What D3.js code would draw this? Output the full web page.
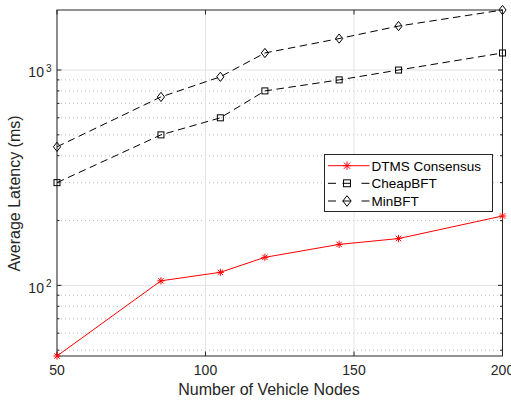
<!DOCTYPE html>
<html><head><meta charset="utf-8">
<script src="https://cdn.jsdelivr.net/npm/d3@7"></script>
<style>body{margin:0;background:#fff}svg{display:block}text{font-family:"Liberation Sans",Arial,Helvetica,sans-serif}</style>
</head><body><div id="c"></div>
<script>
const nodes = [50, 85, 105, 120, 145, 165, 200];
const dtms = [47, 105, 115, 135, 155, 165, 210];
const cheap = [300, 500, 600, 800, 900, 1000, 1200];
const minbft = [440, 750, 930, 1200, 1400, 1600, 1900];
const seriesNames = ["DTMS Consensus", "CheapBFT", "MinBFT"];
const xTicks = [50, 100, 150, 200];
const yMajor = [100, 1000];
const yDomain = [47, 1900];

const W = 511, H = 403;
const m = {l: 57, r: 8.5, t: 10, b: 47};
const svg = d3.select("#c").append("svg").attr("width", W).attr("height", H);
const x = d3.scaleLinear().domain([50, 200]).range([m.l, W - m.r]);
const y = d3.scaleLog().domain(yDomain).range([H - m.b, m.t]);
const x0 = m.l, x1 = W - m.r, y0 = H - m.b, y1 = m.t;

// minor grid
const minor = [];
[10, 100, 1000].forEach(d => { for (let k = 2; k <= 9; k++) { const v = d * k; if (v >= yDomain[0] && v <= yDomain[1]) minor.push(v); } });
const g = svg.append("g");
g.selectAll(".mg").data(minor).enter().append("line")
  .attr("x1", x0).attr("x2", x1).attr("y1", d => y(d)).attr("y2", d => y(d))
  .attr("stroke", "#bdbdbd").attr("stroke-width", 1).attr("stroke-dasharray", "1,3");
g.selectAll(".xg").data(xTicks).enter().append("line")
  .attr("x1", d => x(d)).attr("x2", d => x(d)).attr("y1", y0).attr("y2", y1)
  .attr("stroke", "#e3e3e3").attr("stroke-width", 1);
g.selectAll(".yg").data(yMajor).enter().append("line")
  .attr("x1", x0).attr("x2", x1).attr("y1", d => y(d)).attr("y2", d => y(d))
  .attr("stroke", "#e3e3e3").attr("stroke-width", 1);

// axes box
svg.append("rect").attr("x", x0).attr("y", y1).attr("width", x1 - x0).attr("height", y0 - y1)
  .attr("fill", "none").attr("stroke", "#262626").attr("stroke-width", 1);

// ticks (inward)
const tk = svg.append("g").attr("stroke", "#262626").attr("stroke-width", 1);
xTicks.forEach(t => {
  tk.append("line").attr("x1", x(t)).attr("x2", x(t)).attr("y1", y0).attr("y2", y0 - 4.5);
  tk.append("line").attr("x1", x(t)).attr("x2", x(t)).attr("y1", y1).attr("y2", y1 + 4.5);
});
yMajor.forEach(t => {
  tk.append("line").attr("x1", x0).attr("x2", x0 + 4.5).attr("y1", y(t)).attr("y2", y(t));
  tk.append("line").attr("x1", x1).attr("x2", x1 - 4.5).attr("y1", y(t)).attr("y2", y(t));
});
minor.forEach(t => {
  tk.append("line").attr("x1", x0).attr("x2", x0 + 2.5).attr("y1", y(t)).attr("y2", y(t));
  tk.append("line").attr("x1", x1).attr("x2", x1 - 2.5).attr("y1", y(t)).attr("y2", y(t));
});

// tick labels
svg.selectAll(".xl").data(xTicks).enter().append("text")
  .attr("x", d => x(d)).attr("y", 375).attr("text-anchor", "middle")
  .attr("font-size", 14).attr("fill", "#262626").text(d => d);
yMajor.forEach(t => {
  const tx = svg.append("text").attr("x", 51.5).attr("y", y(t) + 7.2).attr("text-anchor", "end")
    .attr("font-size", 14).attr("fill", "#262626");
  tx.append("tspan").text("10");
  tx.append("tspan").attr("dy", -5.5).attr("dx", 2).attr("font-size", 10).text(Math.round(Math.log10(t)));
});

// axis labels
svg.append("text").attr("x", 269).attr("y", 395).attr("text-anchor", "middle")
  .attr("font-size", 16).attr("fill", "#262626").text("Number of Vehicle Nodes");
svg.append("text").attr("transform", `translate(20,193.5) rotate(-90)`).attr("text-anchor", "middle")
  .attr("font-size", 16).attr("fill", "#262626").text("Average Latency (ms)");

// series
const line = d3.line().x(d => x(d[0])).y(d => y(d[1]));
const data = [
  {vals: dtms, color: "#ff0000", dash: null, marker: "star", legSegs: [[328, 369.5]]},
  {vals: cheap, color: "#000000", dash: "7.5,4.5", marker: "square", legSegs: [[328, 336], [342.5, 351], [361.5, 369.5]]},
  {vals: minbft, color: "#000000", dash: "7.5,4.5", marker: "diamond", legSegs: [[328, 336], [342.5, 351], [361.5, 369.5]]}
];
function drawMarker(sel, type, color, cx, cy, s) {
  const gm = sel.append("g").attr("transform", `translate(${cx},${cy}) scale(${s || 1})`)
    .attr("fill", "none").attr("stroke", color).attr("stroke-width", 1 / (s || 1));
  if (type === "star") {
    const r = 3.6;
    gm.append("line").attr("x1", -r).attr("x2", r).attr("y1", 0).attr("y2", 0);
    gm.append("line").attr("x1", 0).attr("x2", 0).attr("y1", -r).attr("y2", r);
    const q = r * 0.75;
    gm.append("line").attr("x1", -q).attr("x2", q).attr("y1", -q).attr("y2", q);
    gm.append("line").attr("x1", -q).attr("x2", q).attr("y1", q).attr("y2", -q);
  } else if (type === "square") {
    gm.append("rect").attr("x", -3).attr("y", -3).attr("width", 6).attr("height", 6);
  } else {
    gm.append("path").attr("d", "M0,-4.6L3.6,0L0,4.6L-3.6,0Z");
  }
}
data.forEach(s => {
  const pts = nodes.map((n, i) => [n, s.vals[i]]);
  svg.append("path").attr("d", line(pts)).attr("fill", "none").attr("stroke", s.color)
    .attr("stroke-width", 1).attr("stroke-dasharray", s.dash);
  pts.forEach(p => drawMarker(svg, s.marker, s.color, x(p[0]), y(p[1])));
});

// legend
const lg = svg.append("g");
lg.append("rect").attr("x", 324.5).attr("y", 154.5).attr("width", 168).attr("height", 57)
  .attr("fill", "#fff").attr("stroke", "#262626").attr("stroke-width", 1);
const rows = [165.7, 183.3, 201];
data.forEach((s, i) => {
  s.legSegs.forEach(sg => {
    lg.append("line").attr("x1", sg[0]).attr("x2", sg[1]).attr("y1", rows[i]).attr("y2", rows[i])
      .attr("stroke", s.color).attr("stroke-width", 1);
  });
  drawMarker(lg, s.marker, s.color, 347, rows[i], 1.15);
  lg.append("text").attr("x", 371.5).attr("y", rows[i] + 4.8).attr("font-size", 13.5)
    .attr("fill", "#000").text(seriesNames[i]);
});
</script></body></html>
